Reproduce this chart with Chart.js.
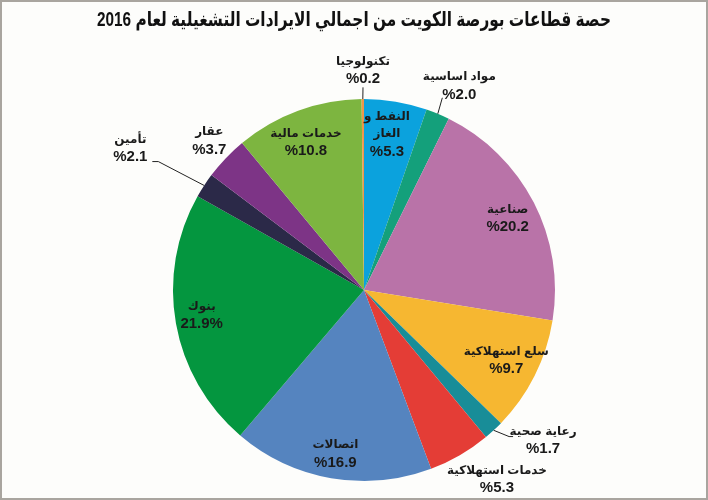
<!DOCTYPE html>
<html lang="ar">
<head>
<meta charset="UTF-8">
<title>حصة قطاعات بورصة الكويت</title>
<script src="https://cdn.jsdelivr.net/npm/chart.js"></script>
<style>
  html, body { margin: 0; padding: 0; background: #fdfdfb; }
  .frame { width: 704px; height: 496px; border: 2px solid #a9a59f; background: #fdfdfb; position: relative; }
  #grafico { position: absolute; left: -2px; top: -2px; }
</style>
</head>
<body>
<div class="frame">
  <canvas id="grafico" width="708" height="500"></canvas>
</div>

<script>
  // dados do grafico (fatia começa em cima, sentido horario)
  const titulo = 'حصة قطاعات بورصة الكويت من اجمالي الايرادات التشغيلية لعام 2016';
  const setores = ['النفط و|الغاز', 'مواد اساسية', 'صناعية', 'سلع استهلاكية', 'رعاية صحية',
    'خدمات استهلاكية', 'اتصالات', 'بنوك', 'تأمين', 'عقار', 'خدمات مالية', 'تكنولوجيا'];
  const percentuais = [5.3, 2.0, 20.2, 9.7, 1.7, 5.3, 16.9, 21.9, 2.1, 3.7, 10.8, 0.2];
  const textoValores = ['%5.3', '%2.0', '%20.2', '%9.7', '%1.7', '%5.3', '%16.9', '21.9%', '%2.1', '%3.7', '%10.8', '%0.2'];

  const cores = ['#0ba2dd', '#14a07b', '#b973a8', '#f6b731', '#188d98', '#e43d36',
    '#5584bf', '#04963f', '#2b2948', '#7d3486', '#7db540', '#f0964a'];

  // posicao dos rotulos: fator do raio e ajuste de angulo (graus)
  const posRotulos = [
    { r: 0.825, da: -1.2 }, { r: 1.18, da: 2.3 }, { r: 0.84, da: 0.8 }, { r: 0.83, da: -0.5 },
    { r: 1.225, da: -7.2 }, { r: 1.21, da: -5 }, { r: 0.87, da: 0 }, { r: 0.86, da: 1.3 },
    { r: 1.43, da: -2 }, { r: 1.125, da: 0.3 }, { r: 0.83, da: -1.3 }, { r: 1.15, da: 0.1 }
  ];
  // linhas guia: ponto final relativo ao rotulo (+ cotovelo opcional)
  const linhasGuia = {
    1: { fim: [-17, 12] },
    4: { fim: [-30, -4], cotovelo: [-34, -4] },
    8: { fim: [22, 13], cotovelo: [28, 13] },
    11: { fim: [0, 17] }
  };

  const fonteTexto = 'bold 12px "Liberation Sans", "DejaVu Sans", sans-serif';
  const fonteNumero = 'bold 15px "Liberation Sans", "DejaVu Sans", sans-serif';

  const pluginRotulos = {
    id: 'rotulos',
    afterDraw(chart) {
      const ctx = chart.ctx;
      const arcos = chart.getDatasetMeta(0).data;
      ctx.save();

      // titulo (ajustado para a largura do original)
      ctx.fillStyle = '#111';
      ctx.font = 'bold 20px "Liberation Sans", "DejaVu Sans", sans-serif';
      ctx.textAlign = 'center';
      ctx.textBaseline = 'middle';
      const largura = ctx.measureText(titulo).width;
      const esc = Math.min(1, 514 / largura);
      ctx.save();
      ctx.translate(354, 20);
      ctx.scale(esc, 1);
      ctx.fillText(titulo, 0, 0);
      ctx.restore();

      arcos.forEach(function (arco, i) {
        const p = arco.getProps(['x', 'y', 'startAngle', 'endAngle', 'outerRadius'], true);
        const meio = (p.startAngle + p.endAngle) / 2;
        const ang = meio + posRotulos[i].da * Math.PI / 180;
        const lx = p.x + Math.cos(ang) * p.outerRadius * posRotulos[i].r;
        const ly = p.y + Math.sin(ang) * p.outerRadius * posRotulos[i].r;

        const linhas = setores[i].split('|').concat([textoValores[i]]);
        const alt = 17.5;
        const y0 = ly - (linhas.length - 1) * alt / 2;
        ctx.fillStyle = '#1a1a1a';
        linhas.forEach(function (t, k) {
          ctx.font = (k === linhas.length - 1) ? fonteNumero : fonteTexto;
          ctx.fillText(t, lx, y0 + k * alt);
        });

        const guia = linhasGuia[i];
        if (guia) {
          const ex = p.x + Math.cos(meio) * p.outerRadius;
          const ey = p.y + Math.sin(meio) * p.outerRadius;
          ctx.strokeStyle = '#222';
          ctx.lineWidth = 1;
          ctx.beginPath();
          ctx.moveTo(ex, ey);
          if (guia.cotovelo) ctx.lineTo(lx + guia.cotovelo[0], ly + guia.cotovelo[1]);
          ctx.lineTo(lx + guia.fim[0], ly + guia.fim[1]);
          ctx.stroke();
        }
      });
      ctx.restore();
    }
  };

  const config = {
    type: 'pie',
    data: {
      labels: setores.map(s => s.replace('|', ' ')),
      datasets: [{
        data: percentuais,
        backgroundColor: cores,
        borderWidth: 0
      }]
    },
    options: {
      responsive: false,
      animation: false,
      rotation: 0,
      layout: { padding: { top: 99, bottom: 19, left: 173, right: 153 } },
      plugins: {
        legend: { display: false },
        tooltip: { enabled: false }
      }
    },
    plugins: [pluginRotulos]
  };

  new Chart(document.getElementById('grafico'), config);
</script>
</body>
</html>
